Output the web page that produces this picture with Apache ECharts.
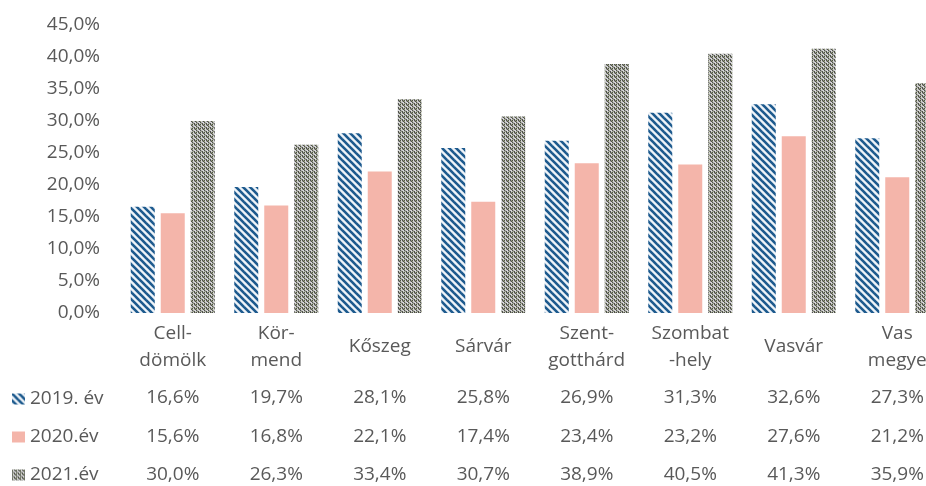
<!DOCTYPE html>
<html>
<head>
<meta charset="utf-8">
<script src="https://cdn.jsdelivr.net/npm/echarts@6/dist/echarts.min.js"></script>
<style>
  html, body { margin: 0; padding: 0; background: #fff; }
  #chart { width: 926px; height: 486px; }
</style>
</head>
<body>
<div id="chart"></div>
<script>
// települések (kategóriák)
var categories = ['Cell-\ndömölk', 'Kör-\nmend', 'Kőszeg', 'Sárvár', 'Szent-\ngotthárd', 'Szombat\n-hely', 'Vasvár', 'Vas\nmegye'];
// sorozatok
var seriesNames = ['2019. év', '2020.év', '2021.év'];
var values2019 = [16.6, 19.7, 28.1, 25.8, 26.9, 31.3, 32.6, 27.3];
var values2020 = [15.6, 16.8, 22.1, 17.4, 23.4, 23.2, 27.6, 21.2];
var values2021 = [30.0, 26.3, 33.4, 30.7, 38.9, 40.5, 41.3, 35.9];
// y tengely
var yMin = 0, yMax = 45, yStep = 5;

var textColor = '#595959';
var fontFamily = '"Open Sans", sans-serif';

function fmt(v) {
  return v.toFixed(1).replace('.', ',') + '%';
}

// kitöltési minták (canvas pattern)
function makePattern(w, h, draw) {
  var c = document.createElement('canvas');
  c.width = w;
  c.height = h;
  draw(c.getContext('2d'));
  return { image: c, repeat: 'repeat' };
}

var stripePattern = makePattern(7, 7, function (ctx) {
  ctx.fillStyle = '#eef3f8';
  ctx.fillRect(0, 0, 7, 7);
  ctx.strokeStyle = '#1d5a8e';
  ctx.lineWidth = 2.6;
  for (var k = -7; k <= 7; k += 7) {
    ctx.beginPath();
    ctx.moveTo(k - 1, -1);
    ctx.lineTo(k + 8, 8);
    ctx.stroke();
  }
});

var speckPattern = makePattern(4, 4, function (ctx) {
  var map = [
    'abac',
    'cbda',
    'adbb',
    'dcab'
  ];
  var cols = { a: '#4f4f4f', b: '#d6d6d6', c: '#8e9873', d: '#a9a9a9' };
  for (var y = 0; y < 4; y++) {
    for (var x = 0; x < 4; x++) {
      ctx.fillStyle = cols[map[y][x]];
      ctx.fillRect(x, y, 1, 1);
    }
  }
});

var pinkColor = '#f4b5aa';

var chart = echarts.init(document.getElementById('chart'));

var labelStyle = {
  color: textColor,
  fontFamily: fontFamily,
  fontSize: 19
};

function rowAxis(values, margin) {
  return {
    type: 'category',
    gridIndex: 0,
    position: 'bottom',
    data: values.map(fmt),
    axisLine: { show: false },
    axisTick: { show: false },
    splitLine: { show: false },
    axisLabel: Object.assign({
      interval: 0,
      margin: margin,
      verticalAlign: 'middle',
      hideOverlap: false
    }, labelStyle)
  };
}

var option = {
  animation: false,
  backgroundColor: '#fff',
  grid: {
    left: 121,
    top: 25,
    width: 828,
    height: 288,
    outerBoundsMode: 'none'
  },
  legend: {
    orient: 'vertical',
    left: 12,
    top: 389,
    padding: 0,
    itemWidth: 13,
    itemHeight: 11,
    itemGap: 18,
    icon: 'rect',
    data: seriesNames,
    textStyle: Object.assign({ lineHeight: 20 }, labelStyle)
  },
  xAxis: [
    {
      type: 'category',
      data: categories,
      axisLine: { show: false },
      axisTick: { show: false },
      splitLine: { show: false },
      axisLabel: Object.assign({
        interval: 0,
        margin: 34,
        verticalAlign: 'middle',
        lineHeight: 27,
        hideOverlap: false
      }, labelStyle)
    },
    rowAxis(values2019, 85),
    rowAxis(values2020, 124),
    rowAxis(values2021, 162)
  ],
  yAxis: {
    type: 'value',
    min: yMin,
    max: yMax,
    interval: yStep,
    axisLine: { show: false },
    axisTick: { show: false },
    splitLine: { show: false },
    axisLabel: Object.assign({
      margin: 21,
      formatter: fmt
    }, labelStyle)
  },
  series: [
    {
      name: seriesNames[0],
      type: 'bar',
      data: values2019,
      barWidth: 24,
      barGap: '25%',
      itemStyle: { color: stripePattern }
    },
    {
      name: seriesNames[1],
      type: 'bar',
      data: values2020,
      barWidth: 24,
      barGap: '25%',
      itemStyle: { color: pinkColor }
    },
    {
      name: seriesNames[2],
      type: 'bar',
      data: values2021,
      barWidth: 24,
      barGap: '25%',
      itemStyle: { color: speckPattern }
    }
  ]
};

chart.setOption(option);
</script>
</body>
</html>
